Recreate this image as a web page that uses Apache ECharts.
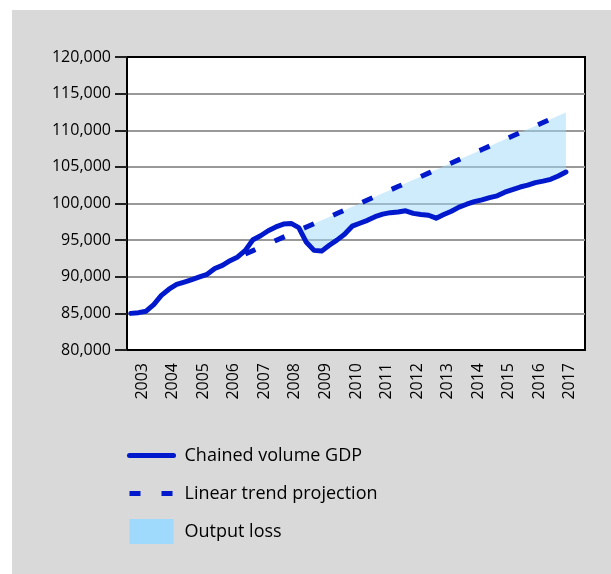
<!DOCTYPE html>
<html>
<head>
<meta charset="utf-8">
<script src="https://cdn.jsdelivr.net/npm/echarts@6/dist/echarts.min.js"></script>
<style>
  html, body { margin: 0; padding: 0; background: #fff; }
  #main { width: 611px; height: 574px; }
</style>
</head>
<body>
<div id="main"></div>
<script>
var years = ['2003', '2004', '2005', '2006', '2007', '2008', '2009', '2010',
    '2011', '2012', '2013', '2014', '2015', '2016', '2017'];
var quarters = [];
years.forEach(function (y) {
    ['Q1', 'Q2', 'Q3', 'Q4'].forEach(function (q) { quarters.push(y + ' ' + q); });
});

// chained volume GDP, quarterly from 2003 Q1 to 2017 Q2
var gdp = [
    85000, 85100, 85300, 86200, 87450, 88300, 88950, 89280, 89620, 89980,
    90330, 91120, 91550, 92200, 92700, 93600, 95050, 95600, 96280, 96800,
    97190, 97280, 96700, 94700, 93600, 93500, 94300, 95000, 95800, 96900,
    97300, 97700, 98200, 98550, 98750, 98850, 99000, 98650, 98500, 98400,
    98000, 98500, 98950, 99500, 99900, 100250, 100500, 100800, 101050, 101550,
    101900, 102250, 102500, 102850, 103050, 103300, 103750, 104300
];

// linear trend projection, quarterly from 2006 Q4
var trendFrom = '2006 Q4';
var trend = [
    93110, 93570, 94030, 94490, 94950, 95410, 95870, 96330, 96790, 97250,
    97710, 98170, 98630, 99090, 99550, 100010, 100470, 100930, 101390, 101850,
    102310, 102770, 103230, 103690, 104150, 104610, 105070, 105530, 105990, 106450,
    106910, 107370, 107830, 108290, 108750, 109210, 109670, 110130, 110590, 111050,
    111510, 111970, 112430
];
var lossFrom = '2008 Q3';

var yMin = 80000, yMax = 120000, yStep = 5000;

var t0 = quarters.indexOf(trendFrom);
var trendData = gdp.map(function (v, i) { return i >= t0 ? trend[i - t0] : null; });
var l0 = quarters.indexOf(lossFrom);
var lossBase = gdp.map(function (v, i) { return i >= l0 ? v : null; });
var lossGap = gdp.map(function (v, i) { return i >= l0 ? Math.max(trendData[i] - v, 0) : null; });

var blue = '#0019cc';
var lossColor = '#9fd9fc';
var font = 'Open Sans';

var myChart = echarts.init(document.getElementById('main'));
var option = {
    backgroundColor: '#fff',
    animation: false,
    textStyle: { fontFamily: font },
    graphic: [{
        type: 'rect',
        z: -100,
        silent: true,
        shape: { x: 12, y: 10, width: 599, height: 564 },
        style: { fill: '#d9d9d9' }
    }],
    grid: {
        left: 127, top: 57, width: 458, height: 293,
        show: true, backgroundColor: '#fff',
        borderColor: '#000', borderWidth: 2
    },
    legend: {
        orient: 'vertical',
        left: 127, top: 443,
        padding: 0,
        itemWidth: 44, itemHeight: 25, itemGap: 13,
        textStyle: { fontSize: 18, lineHeight: 25, color: '#000', fontFamily: font, padding: [0, 0, 0, 6] },
        data: [
            { name: 'Chained volume GDP', itemStyle: { opacity: 0 }, lineStyle: { width: 5 } },
            { name: 'Linear trend projection', itemStyle: { opacity: 0 }, lineStyle: { width: 5 } },
            { name: 'Output loss', icon: 'rect', itemStyle: { color: lossColor, opacity: 1 } }
        ]
    },
    xAxis: [{
        type: 'category',
        data: years,
        boundaryGap: true,
        axisLine: { lineStyle: { color: '#000', width: 2 } },
        axisTick: { inside: true, length: 12, lineStyle: { color: '#000', width: 2 } },
        axisLabel: { rotate: 90, fontSize: 16, color: '#000', margin: 13, fontFamily: font },
        splitLine: { show: false }
    }, {
        type: 'category',
        data: quarters,
        boundaryGap: true,
        show: false
    }],
    yAxis: {
        type: 'value',
        min: yMin, max: yMax, interval: yStep,
        axisLine: { show: true, lineStyle: { color: '#000', width: 2 } },
        axisTick: { show: true, length: 12, lineStyle: { color: '#222', width: 2 } },
        axisLabel: {
            fontSize: 16, color: '#000', margin: 16, fontFamily: font,
            formatter: function (v) { return v.toLocaleString('en-US'); }
        },
        splitLine: { show: true, showMaxLine: false, showMinLine: false, lineStyle: { color: '#999', width: 2 } }
    },
    series: [{
        name: 'loss base',
        type: 'line',
        xAxisIndex: 1,
        stack: 'loss',
        data: lossBase,
        symbol: 'none',
        lineStyle: { opacity: 0, width: 0 },
        silent: true
    }, {
        name: 'Output loss',
        type: 'line',
        xAxisIndex: 1,
        stack: 'loss',
        data: lossGap,
        symbol: 'none',
        itemStyle: { color: lossColor },
        lineStyle: { opacity: 0, width: 0 },
        areaStyle: { color: lossColor, opacity: 0.5 },
        silent: true
    }, {
        name: 'Linear trend projection',
        type: 'line',
        xAxisIndex: 1,
        data: trendData,
        symbol: 'none',
        itemStyle: { color: blue },
        lineStyle: { color: blue, width: 5, type: [11, 21], cap: 'butt' }
    }, {
        name: 'Chained volume GDP',
        type: 'line',
        xAxisIndex: 1,
        data: gdp,
        symbol: 'none',
        itemStyle: { color: blue },
        lineStyle: { color: blue, width: 5, cap: 'round', join: 'round' }
    }]
};
myChart.setOption(option);
</script>
</body>
</html>
